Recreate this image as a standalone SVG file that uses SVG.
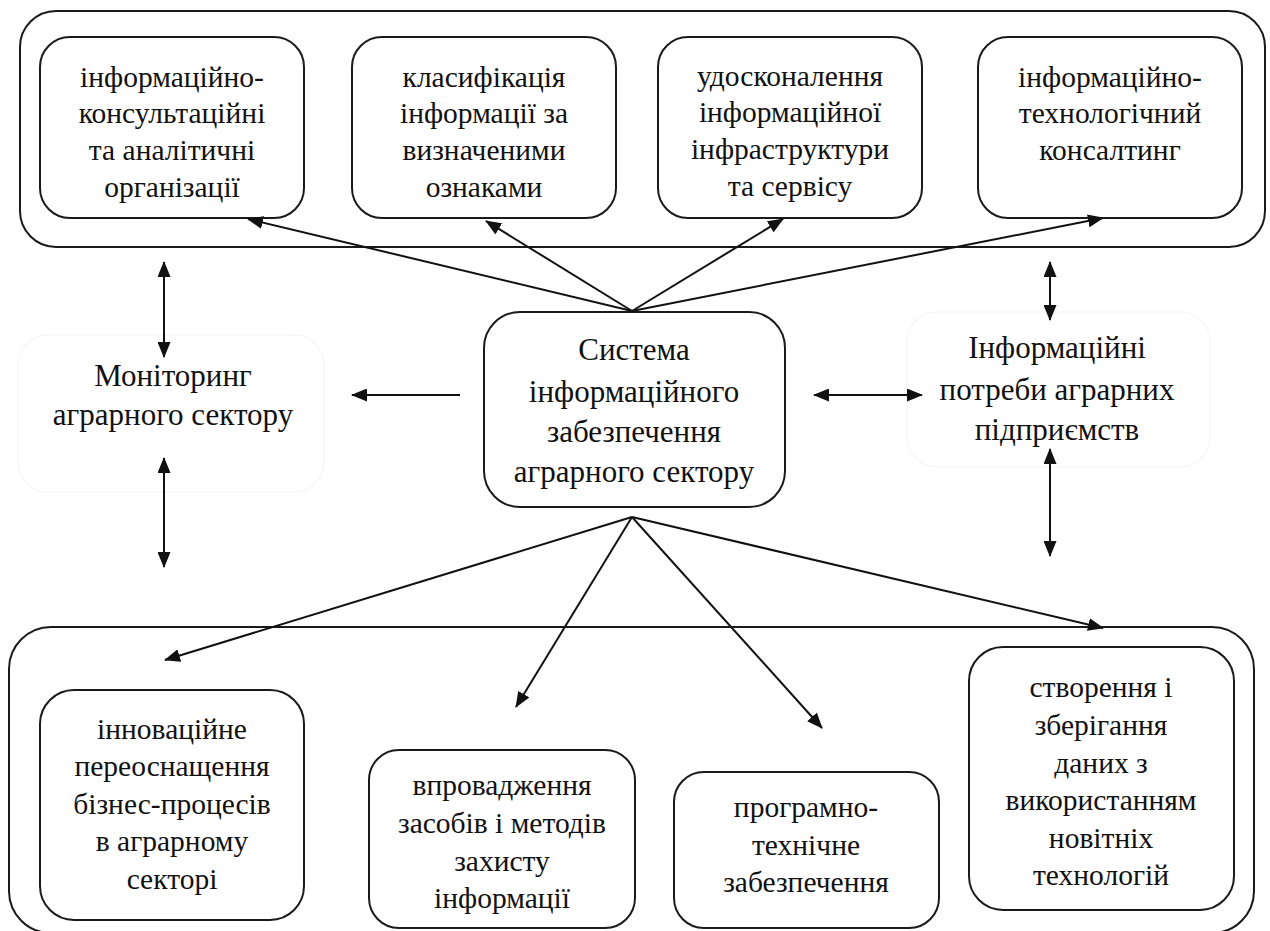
<svg xmlns="http://www.w3.org/2000/svg" width="1270" height="931" viewBox="0 0 1270 931">
<defs>
<marker id="ah" viewBox="0 0 16 13" refX="15" refY="6.5" markerWidth="16" markerHeight="13" markerUnits="userSpaceOnUse" orient="auto-start-reverse"><path d="M0,0 L16,6.5 L0,13 z" fill="#111"/></marker>
<style>
.box{fill:#fff;stroke:#1a1a1a;stroke-width:2}
.faint{fill:none;stroke:#f7f7f7;stroke-width:1.5}
text{font-family:'Liberation Serif','Times New Roman',serif;font-size:29.5px;fill:#111;text-anchor:middle}
text.m{font-size:31px}
.c line{stroke:#111;stroke-width:2}
</style>
</defs>
<rect width="1270" height="931" fill="#fff"/>
<g id="top-group"><rect class="box" x="20" y="11" width="1245" height="236" rx="36"/></g>
<g id="bottom-group"><rect class="box" x="9" y="627" width="1245" height="306" rx="42"/></g>

<g id="n-top1"><rect class="box" x="40" y="37" width="264" height="181" rx="30"/>
<text><tspan x="172" y="87">інформаційно-</tspan><tspan x="172" y="123">консультаційні</tspan><tspan x="172" y="160">та аналітичні</tspan><tspan x="172" y="197">організації</tspan></text></g>
<g id="n-top2"><rect class="box" x="352" y="37" width="264" height="181" rx="30"/>
<text><tspan x="484" y="87">класифікація</tspan><tspan x="484" y="123">інформації за</tspan><tspan x="484" y="160">визначеними</tspan><tspan x="484" y="197">ознаками</tspan></text></g>
<g id="n-top3"><rect class="box" x="658" y="37" width="264" height="181" rx="30"/>
<text><tspan x="790" y="86">удосконалення</tspan><tspan x="790" y="122">інформаційної</tspan><tspan x="790" y="159">інфраструктури</tspan><tspan x="790" y="196">та сервісу</tspan></text></g>
<g id="n-top4"><rect class="box" x="978" y="37" width="264" height="181" rx="30"/>
<text><tspan x="1110" y="87">інформаційно-</tspan><tspan x="1110" y="123">технологічний</tspan><tspan x="1110" y="160">консалтинг</tspan></text></g>

<g id="n-center"><rect class="box" x="484" y="312" width="301" height="195" rx="36"/>
<text class="m"><tspan x="634" y="360">Система</tspan><tspan x="634" y="402">інформаційного</tspan><tspan x="634" y="442">забезпечення</tspan><tspan x="634" y="482">аграрного сектору</tspan></text></g>

<g id="n-monitoring"><rect class="faint" x="18" y="335" width="306" height="157" rx="30"/>
<text class="m"><tspan x="173" y="386">Моніторинг</tspan><tspan x="173" y="425">аграрного сектору</tspan></text></g>
<g id="n-needs"><rect class="faint" x="907" y="312" width="303" height="155" rx="30"/>
<text class="m"><tspan x="1057" y="358">Інформаційні</tspan><tspan x="1057" y="400">потреби аграрних</tspan><tspan x="1057" y="440">підприємств</tspan></text></g>

<g id="n-bot1"><rect class="box" x="40" y="690" width="264" height="230" rx="34"/>
<text><tspan x="172" y="739">інноваційне</tspan><tspan x="172" y="776">переоснащення</tspan><tspan x="172" y="814">бізнес-процесів</tspan><tspan x="172" y="851">в аграрному</tspan><tspan x="172" y="889">секторі</tspan></text></g>
<g id="n-bot2"><rect class="box" x="369" y="750" width="266" height="178" rx="30"/>
<text><tspan x="502" y="795">впровадження</tspan><tspan x="502" y="833">засобів і методів</tspan><tspan x="502" y="871">захисту</tspan><tspan x="502" y="908">інформації</tspan></text></g>
<g id="n-bot3"><rect class="box" x="674" y="772" width="265" height="156" rx="30"/>
<text><tspan x="806" y="817">програмно-</tspan><tspan x="806" y="855">технічне</tspan><tspan x="806" y="892">забезпечення</tspan></text></g>
<g id="n-bot4"><rect class="box" x="969" y="647" width="265" height="263" rx="34"/>
<text><tspan x="1101" y="697">створення і</tspan><tspan x="1101" y="735">зберігання</tspan><tspan x="1101" y="773">даних з</tspan><tspan x="1101" y="810">використанням</tspan><tspan x="1101" y="848">новітніх</tspan><tspan x="1101" y="885">технологій</tspan></text></g>

<g id="connectors" class="c">
<line x1="632" y1="311" x2="248" y2="219" marker-end="url(#ah)"/>
<line x1="632" y1="311" x2="486" y2="221" marker-end="url(#ah)"/>
<line x1="632" y1="311" x2="783" y2="219" marker-end="url(#ah)"/>
<line x1="632" y1="311" x2="1103" y2="218" marker-end="url(#ah)"/>
<line x1="164" y1="262" x2="164" y2="357" marker-start="url(#ah)" marker-end="url(#ah)"/>
<line x1="164" y1="458" x2="164" y2="567" marker-start="url(#ah)" marker-end="url(#ah)"/>
<line x1="460" y1="395" x2="352" y2="395" marker-end="url(#ah)"/>
<line x1="1050" y1="262" x2="1050" y2="320" marker-start="url(#ah)" marker-end="url(#ah)"/>
<line x1="1050" y1="449" x2="1050" y2="556" marker-start="url(#ah)" marker-end="url(#ah)"/>
<line x1="814" y1="395" x2="922" y2="395" marker-start="url(#ah)" marker-end="url(#ah)"/>
<line x1="632" y1="517" x2="165" y2="660" marker-end="url(#ah)"/>
<line x1="632" y1="517" x2="516" y2="707" marker-end="url(#ah)"/>
<line x1="632" y1="517" x2="822" y2="728" marker-end="url(#ah)"/>
<line x1="632" y1="517" x2="1103" y2="628" marker-end="url(#ah)"/>
</g>
</svg>
